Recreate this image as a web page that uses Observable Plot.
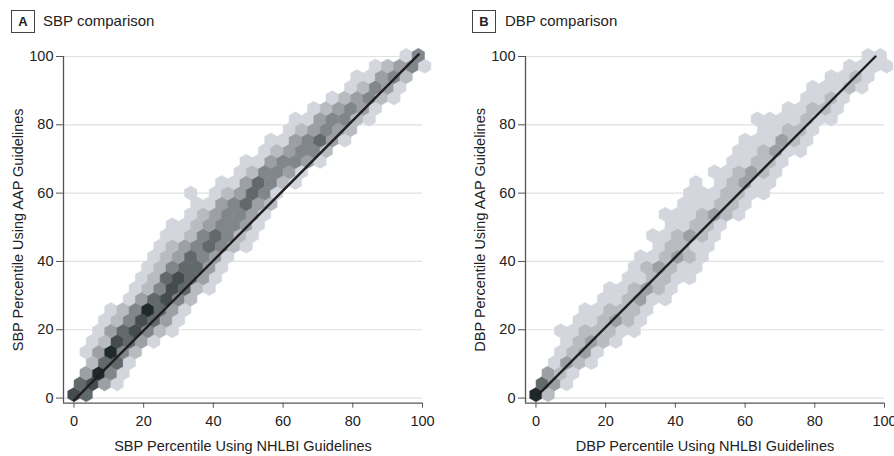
<!DOCTYPE html>
<html>
<head>
<meta charset="utf-8">
<script src="https://cdn.jsdelivr.net/npm/d3@7"></script>
<script src="https://cdn.jsdelivr.net/npm/@observablehq/plot@0.6"></script>
<style>
  html, body { margin: 0; padding: 0; background: #fff; }
  body { width: 894px; height: 456px; position: relative; overflow: hidden; font-family: "Liberation Sans", Arial, sans-serif; color: #222; }
  .box { position: absolute; top: 10px; width: 22px; height: 21px; border: 1.2px solid #444; font-weight: bold; font-size: 13px; display: flex; align-items: center; justify-content: center; }
  .ttl { position: absolute; top: 9px; font-size: 15px; line-height: 24px; }
  .panel { position: absolute; top: 40px; }
</style>
</head>
<body>
<div class="box" style="left:11px">A</div>
<div class="ttl" style="left:43px">SBP comparison</div>
<div class="box" style="left:472px">B</div>
<div class="ttl" style="left:505px">DBP comparison</div>
<div id="pa" class="panel" style="left:0px"></div>
<div id="pb" class="panel" style="left:462px"></div>
<script>
// Count levels of the hexagonal bins (1 = fewest children, 7 = most)
const hexLevels = [1, 2, 3, 4, 5, 6, 7];
const hexGrays = ["#d3d6dc", "#b8bcc1", "#9ca0a5", "#80868a", "#62696b", "#454c4d", "#1f2929"];
const xTicks = [0, 20, 40, 60, 80, 100];
const yTicks = [0, 20, 40, 60, 80, 100];

// SBP: hex rows (y = AAP percentile, x = NHLBI percentile, n = count level)
const sbpRows = [
  {y: 1.0,   x: [0, 3.5], n: [6, 5]},
  {y: 4.2,   x: [1.8, 5.3, 8.8, 12.4], n: [5, 6, 3, 1]},
  {y: 7.3,   x: [3.5, 7.1, 10.6, 14.1], n: [3, 7, 4, 1]},
  {y: 10.4,  x: [5.3, 8.8, 12.4, 15.9], n: [2, 5, 5, 1]},
  {y: 13.5,  x: [3.5, 7.1, 10.6, 14.1, 17.6], n: [1, 3, 7, 4, 2]},
  {y: 16.6,  x: [5.3, 8.8, 12.4, 15.9, 19.4, 22.9], n: [1, 2, 6, 5, 3, 1]},
  {y: 19.7,  x: [7.1, 10.6, 14.1, 17.6, 21.2, 24.7, 28.2], n: [1, 3, 5, 6, 4, 2, 1]},
  {y: 22.8,  x: [8.8, 12.4, 15.9, 19.4, 22.9, 26.5, 30.0], n: [1, 2, 4, 6, 5, 3, 1]},
  {y: 25.9,  x: [10.6, 14.1, 17.6, 21.2, 24.7, 28.2, 31.8], n: [1, 2, 4, 7, 5, 3, 1]},
  {y: 29.0,  x: [15.9, 19.4, 22.9, 26.5, 30.0, 33.5], n: [1, 3, 5, 6, 4, 2]},
  {y: 32.1,  x: [17.6, 21.2, 24.7, 28.2, 31.8, 35.3, 38.8], n: [1, 2, 4, 6, 5, 2, 1]},
  {y: 35.2,  x: [19.4, 22.9, 26.5, 30.0, 33.5, 37.1, 40.6], n: [1, 2, 5, 6, 5, 3, 1]},
  {y: 38.3,  x: [21.2, 24.7, 28.2, 31.8, 35.3, 38.8, 42.4], n: [1, 2, 4, 5, 5, 3, 1]},
  {y: 41.4,  x: [22.9, 26.5, 30.0, 33.5, 37.1, 40.6, 44.1], n: [1, 2, 3, 5, 4, 3, 1]},
  {y: 44.5,  x: [24.7, 28.2, 31.8, 35.3, 38.8, 42.4, 45.9, 49.4], n: [1, 2, 3, 4, 5, 4, 2, 1]},
  {y: 47.6,  x: [26.5, 30.0, 33.5, 37.1, 40.6, 44.1, 47.7, 51.2], n: [1, 1, 2, 4, 5, 4, 2, 1]},
  {y: 50.7,  x: [28.2, 31.8, 35.3, 38.8, 42.4, 45.9, 49.4, 52.9], n: [1, 1, 2, 3, 4, 4, 3, 1]},
  {y: 53.8,  x: [33.5, 37.1, 40.6, 44.1, 47.7, 51.2, 54.7], n: [1, 2, 3, 4, 4, 3, 1]},
  {y: 56.9,  x: [35.3, 38.8, 42.4, 45.9, 49.4, 52.9, 56.5], n: [1, 1, 3, 4, 5, 3, 2]},
  {y: 60.0,  x: [33.5, 40.6, 44.1, 47.7, 51.2, 54.7, 58.2], n: [1, 1, 2, 3, 5, 4, 1]},
  {y: 63.1,  x: [42.4, 45.9, 49.4, 52.9, 56.5, 60.0, 63.5], n: [1, 1, 3, 5, 4, 2, 1]},
  {y: 66.2,  x: [47.7, 51.2, 54.7, 58.2, 61.8, 65.3], n: [1, 2, 4, 4, 3, 1]},
  {y: 69.3,  x: [49.4, 52.9, 56.5, 60.0, 63.5, 67.1, 70.6], n: [1, 1, 3, 4, 4, 3, 1]},
  {y: 72.4,  x: [54.7, 58.2, 61.8, 65.3, 68.8, 72.4], n: [1, 2, 3, 4, 4, 2]},
  {y: 75.5,  x: [56.5, 60.0, 63.5, 67.1, 70.6, 74.1, 77.7], n: [1, 1, 3, 4, 5, 3, 1]},
  {y: 78.6,  x: [61.8, 65.3, 68.8, 72.4, 75.9, 79.4], n: [1, 2, 3, 4, 3, 2]},
  {y: 81.7,  x: [63.5, 67.1, 70.6, 74.1, 77.7, 81.2, 84.7], n: [1, 1, 3, 4, 4, 2, 1]},
  {y: 84.8,  x: [68.8, 72.4, 75.9, 79.4, 83.0, 86.5], n: [1, 2, 3, 4, 3, 1]},
  {y: 87.9,  x: [74.1, 77.7, 81.2, 84.7, 88.2, 91.8], n: [1, 2, 3, 4, 2, 1]},
  {y: 91.0,  x: [79.4, 83.0, 86.5, 90.0, 93.5], n: [1, 2, 4, 3, 1]},
  {y: 94.1,  x: [81.2, 84.7, 88.2, 91.8, 95.3], n: [1, 1, 3, 4, 2]},
  {y: 97.2,  x: [86.5, 90.0, 93.5, 97.1, 100.6], n: [1, 2, 3, 4, 1]},
  {y: 100.3, x: [95.3, 98.8], n: [1, 4]}
];

// DBP: hex rows
const dbpRows = [
  {y: 1.0,   x: [0, 3.5], n: [7, 2]},
  {y: 4.2,   x: [1.8, 5.3, 8.8], n: [5, 3, 1]},
  {y: 7.3,   x: [3.5, 7.1, 10.6], n: [3, 2, 1]},
  {y: 10.4,  x: [5.3, 8.8, 12.4, 15.9], n: [1, 3, 2, 1]},
  {y: 13.5,  x: [7.1, 10.6, 14.1, 17.6], n: [1, 2, 3, 1]},
  {y: 16.6,  x: [8.8, 12.4, 15.9, 19.4, 22.9], n: [1, 2, 3, 2, 1]},
  {y: 19.7,  x: [7.1, 10.6, 14.1, 17.6, 21.2, 24.7, 28.2], n: [1, 1, 2, 2, 2, 1, 1]},
  {y: 22.8,  x: [12.4, 15.9, 19.4, 22.9, 26.5, 30.0], n: [1, 1, 2, 3, 2, 1]},
  {y: 25.9,  x: [14.1, 17.6, 21.2, 24.7, 28.2, 31.8], n: [1, 1, 2, 2, 2, 1]},
  {y: 29.0,  x: [19.4, 22.9, 26.5, 30.0, 33.5, 37.1], n: [1, 1, 2, 3, 1, 1]},
  {y: 32.1,  x: [21.2, 24.7, 28.2, 31.8, 35.3, 38.8], n: [1, 1, 2, 3, 2, 1]},
  {y: 35.2,  x: [26.5, 30.0, 33.5, 37.1, 40.6, 44.1], n: [1, 1, 2, 2, 1, 1]},
  {y: 38.3,  x: [28.2, 31.8, 35.3, 38.8, 42.4, 45.9], n: [1, 2, 3, 2, 1, 1]},
  {y: 41.4,  x: [30.0, 33.5, 37.1, 40.6, 44.1, 47.7], n: [1, 1, 2, 3, 2, 1]},
  {y: 44.5,  x: [35.3, 38.8, 42.4, 45.9, 49.4], n: [1, 2, 2, 1, 1]},
  {y: 47.6,  x: [33.5, 37.1, 40.6, 44.1, 47.7, 51.2], n: [1, 1, 2, 3, 2, 1]},
  {y: 50.7,  x: [38.8, 42.4, 45.9, 49.4, 52.9], n: [1, 1, 2, 2, 1]},
  {y: 53.8,  x: [37.1, 40.6, 44.1, 47.7, 51.2, 54.7, 58.2], n: [1, 1, 1, 2, 3, 2, 1]},
  {y: 56.9,  x: [42.4, 45.9, 49.4, 52.9, 56.5, 60.0], n: [1, 1, 1, 2, 2, 1]},
  {y: 60.0,  x: [44.1, 47.7, 51.2, 54.7, 58.2, 61.8, 65.3], n: [1, 1, 1, 2, 2, 1, 1]},
  {y: 63.1,  x: [45.9, 52.9, 56.5, 60.0, 63.5, 67.1], n: [1, 1, 2, 3, 1, 1]},
  {y: 66.2,  x: [51.2, 54.7, 58.2, 61.8, 65.3, 68.8], n: [1, 1, 2, 3, 2, 1]},
  {y: 69.3,  x: [56.5, 60.0, 63.5, 67.1, 70.6], n: [1, 1, 2, 2, 1]},
  {y: 72.4,  x: [58.2, 61.8, 65.3, 68.8, 72.4, 75.9], n: [1, 1, 2, 3, 1, 1]},
  {y: 75.5,  x: [60.0, 63.5, 67.1, 70.6, 74.1, 77.7], n: [1, 1, 1, 3, 2, 1]},
  {y: 78.6,  x: [65.3, 68.8, 72.4, 75.9, 79.4], n: [1, 1, 2, 2, 1]},
  {y: 81.7,  x: [63.5, 67.1, 70.6, 74.1, 77.7, 81.2, 84.7], n: [1, 1, 1, 1, 2, 1, 1]},
  {y: 84.8,  x: [72.4, 75.9, 79.4, 83.0, 86.5], n: [1, 1, 2, 2, 1]},
  {y: 87.9,  x: [77.7, 81.2, 84.7, 88.2], n: [1, 1, 2, 1]},
  {y: 91.0,  x: [79.4, 83.0, 86.5, 90.0, 93.5], n: [1, 1, 1, 2, 1]},
  {y: 94.1,  x: [84.7, 88.2, 91.8, 95.3], n: [1, 1, 2, 1]},
  {y: 97.2,  x: [90.0, 93.5, 97.1, 100.6], n: [1, 1, 1, 1]},
  {y: 100.3, x: [95.3, 98.8], n: [1, 1]}
];

// Fitted lines (endpoints)
const sbpLine = [{x: 0, y: -0.7}, {x: 98.9, y: 100.6}];
const dbpLine = [{x: 0.5, y: 0.8}, {x: 97.4, y: 100}];

function cells(rows) {
  return rows.flatMap(r => r.x.map((x, i) => ({x, y: r.y, n: r.n[i]})));
}

function panel(rows, line, xLabel, yLabel, width, marginRight) {
  return Plot.plot({
    width, height: 416,
    marginTop: 16, marginBottom: 53.3, marginLeft: 63, marginRight,
    x: {domain: [-3, 100]},
    y: {domain: [-1.5, 100]},
    color: {type: "ordinal", domain: hexLevels, range: hexGrays},
    style: {fontFamily: "Liberation Sans, Arial, sans-serif", fontSize: "14.5px", color: "#222", overflow: "visible", background: "transparent"},
    marks: [
      Plot.ruleY(yTicks, {x1: -3, x2: 100, stroke: "#e0e0e0", strokeWidth: 1.2}),
      Plot.dot(cells(rows), {x: "x", y: "y", fill: "n", stroke: "n", strokeWidth: 0.5, symbol: "hexagon", r: 6.2}),
      Plot.line(line, {x: "x", y: "y", stroke: "#231f20", strokeWidth: 2.4}),
      Plot.ruleX([-3], {y1: -1.5, y2: 100, stroke: "#555", strokeWidth: 1.3}),
      Plot.ruleY([-1.5], {x1: -3, x2: 100, stroke: "#555", strokeWidth: 1.3}),
      Plot.axisX(xTicks, {tickSize: 5, tickPadding: 8, label: null, stroke: "#555"}),
      Plot.axisY(yTicks, {tickSize: 7, tickPadding: 3, label: null, stroke: "#555"}),
      Plot.text([xLabel], {frameAnchor: "bottom", dy: 43, textAnchor: "middle", lineAnchor: "middle", fontSize: 14.5, fill: "#222"}),
      Plot.text([yLabel], {frameAnchor: "left", dx: -45, rotate: -90, textAnchor: "middle", lineAnchor: "middle", fontSize: 14.5, fill: "#222"})
    ]
  });
}

document.getElementById("pa").append(panel(sbpRows, sbpLine,
  "SBP Percentile Using NHLBI Guidelines", "SBP Percentile Using AAP Guidelines", 462, 40));
document.getElementById("pb").append(panel(dbpRows, dbpLine,
  "DBP Percentile Using NHLBI Guidelines", "DBP Percentile Using AAP Guidelines", 432, 10));
</script>
</body>
</html>
